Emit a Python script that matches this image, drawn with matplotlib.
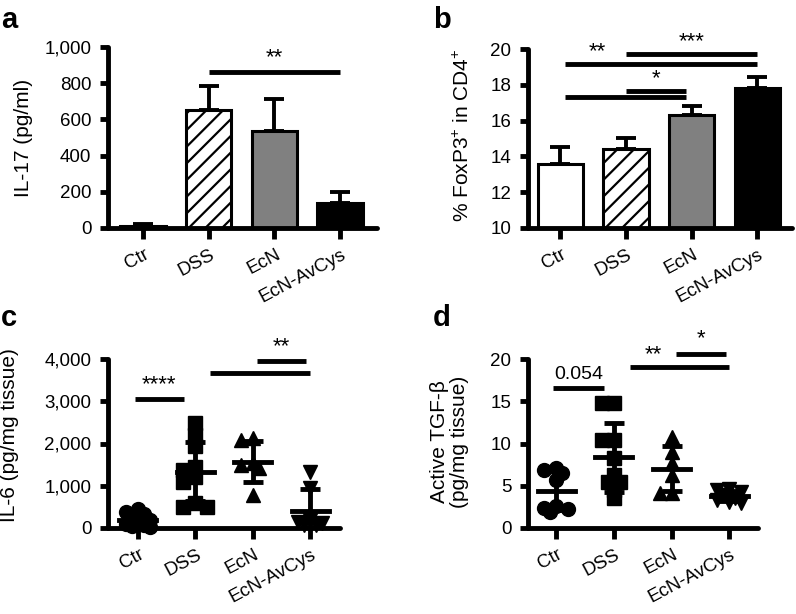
import numpy as np
import matplotlib
matplotlib.use('Agg')
import matplotlib.pyplot as plt
import matplotlib.transforms as mt
from matplotlib.ticker import FuncFormatter

plt.rcParams['font.family'] = ['Liberation Sans', 'DejaVu Sans']
plt.rcParams['mathtext.fontset'] = 'custom'
plt.rcParams['mathtext.rm'] = 'Liberation Sans'
plt.rcParams['mathtext.it'] = 'Liberation Sans:italic'
plt.rcParams['hatch.linewidth'] = 1.6

#%% data

groups = ['Ctr', 'DSS', 'EcN', 'EcN-AvCys']

# a: IL-17 (bar, mean and upper error)
il17_mean = [12, 650, 535, 140]
il17_upper = [20, 785, 715, 200]

# b: % FoxP3+ in CD4+
foxp3_mean = [13.55, 14.4, 16.3, 17.8]
foxp3_upper = [14.5, 15.05, 16.8, 18.45]

# c: IL-6 individual values
il6_ctr = [450, 380, 320, 250, 200, 150, 100, 80, 50, 30]
il6_dss = [2490, 2200, 1950, 1450, 1370, 1200, 1100, 585, 505, 505]
il6_ecn = [2090, 2120, 1490, 1530, 1410, 790]
il6_avcys = [1330, 940, 200, 150, 120, 80, 60]

# d: active TGF-beta individual values
tgf_ctr = [7.1, 6.9, 6.5, 5.7, 2.6, 2.4, 2.2, 1.9]
tgf_dss = [14.8, 14.8, 10.4, 10.4, 8.25, 6.3, 5.5, 5.4, 4.5, 3.5]
tgf_ecn = [10.8, 9.0, 7.65, 6.3, 4.1, 4.15]
tgf_avcys = [4.6, 4.5, 4.3, 3.9, 3.6, 3.3, 3.1, 3.0]

# significance: (from group, to group, height, label)
sig_a = [(1, 3, 862, '**')]
sig_b = [(0, 3, 19.16, ''), (1, 3, 19.7, '***'), (0, 2, 17.3, ''), (1, 2, 17.67, '*')]
sig_c = [(0, 1, 3060, '****'), (1, 3, 3680, ''), (2, 3, 3960, '**')]
sig_d = [(0, 1, 16.55, '0.054'), (1, 3, 19.1, ''), (2, 3, 20.6, '*')]

#%% figure

W, H = 796, 614
fig = plt.figure(figsize=(W / 100, H / 100), dpi=100)

def px_axes(l, r, t, b):
    return fig.add_axes([l / W, 1 - b / H, (r - l) / W, (b - t) / H])

LW = 3.5
TICK_FS = 13.5
LAB_FS = 15

def style(ax, ylim, yticks, xlim):
    ax.set_xlim(*xlim)
    ax.set_ylim(*ylim)
    ax.set_yticks(yticks)
    ax.set_xticks(range(len(groups)))
    ax.spines['top'].set_visible(False)
    ax.spines['right'].set_visible(False)
    for s in ['left', 'bottom']:
        ax.spines[s].set_linewidth(LW)
        ax.spines[s].set_capstyle('round')
    ax.tick_params(axis='y', length=6, width=LW, labelsize=TICK_FS, pad=6)
    ax.tick_params(axis='x', length=8, width=LW, labelsize=13.5, pad=5)
    ax.set_xticklabels(groups, rotation=28, ha='right', rotation_mode='anchor')
    # labels end just right of the tick
    off = mt.ScaledTranslation(1 / 100, 0, fig.dpi_scale_trans)
    for lab in ax.get_xticklabels():
        lab.set_transform(lab.get_transform() + off)

def sig(ax, comps, inset, dy, fs=16):
    for k, (i, j, y, txt) in enumerate(comps):
        x0, x1 = i + inset[k][0], j + inset[k][1]
        ax.plot([x0, x1], [y, y], color='k', lw=LW, solid_capstyle='butt', clip_on=False)
        if txt:
            ax.text((x0 + x1) / 2, y + dy, txt, ha='center', va='bottom',
                    fontsize=14 if txt[0].isdigit() else fs, clip_on=False)

comma = FuncFormatter(lambda v, p: '{:,.0f}'.format(v))

# ---- a
ax = px_axes(108, 377, 47, 228)
x = np.arange(4)
face = ['white', 'white', '#808080', 'black']
hatch = ['', '//', '', '']
ax.errorbar(x, il17_mean, yerr=[np.zeros(4), np.array(il17_upper) - np.array(il17_mean)],
            fmt='none', ecolor='k', elinewidth=2.8, capsize=7.5, capthick=2.8, zorder=1)
ax.bar(x, il17_mean, width=0.69, color=face, edgecolor='k', linewidth=2.2,
       hatch=hatch, zorder=2)
style(ax, (0, 1000), [0, 200, 400, 600, 800, 1000], (-0.53, 3.56))
ax.yaxis.set_major_formatter(comma)
ax.set_ylabel('IL-17 (pg/ml)', fontsize=LAB_FS)
ax.yaxis.set_label_coords(-0.28, 0.5)
sig(ax, sig_a, inset=[(0, 0)], dy=20)

# ---- b
ax = px_axes(528, 792, 49, 228)
ax.errorbar(x, foxp3_mean, yerr=[np.zeros(4), np.array(foxp3_upper) - np.array(foxp3_mean)],
            fmt='none', ecolor='k', elinewidth=2.8, capsize=7.5, capthick=2.8, zorder=1)
ax.bar(x, foxp3_mean, width=0.69, color=face, edgecolor='k', linewidth=2.2,
       hatch=hatch, zorder=2)
style(ax, (10, 20), [10, 12, 14, 16, 18, 20], (-0.49, 3.53))
ax.set_ylabel('% FoxP3$^{+}$ in CD4$^{+}$', fontsize=LAB_FS)
ax.yaxis.set_label_coords(-0.208, 0.52)
sig(ax, sig_b, inset=[(0.08, 0), (0, 0), (0.08, -0.08), (0, -0.08)], dy=0.1)
ax.text(0.56, 19.25, '**', ha='center', va='bottom', fontsize=16)

# ---- scatter panels
def swarm(vals, pos, ax_h_px, yrange, diam_px=13, step_px=6, unit_px=57.5):
    vals = np.asarray(vals, float)
    ypx = vals / yrange * ax_h_px
    order = np.argsort(-vals)
    placed = []
    xs = np.zeros(len(vals))
    cands = [0, -1, 1, -2, 2]
    for idx in order:
        best, best_d = 0, -1
        for c in cands:
            xp = c * step_px
            dmin = min([np.hypot(xp - px, ypx[idx] - py) for px, py in placed] or [1e9])
            if dmin >= 0.6 * diam_px:
                best = xp
                break
            if dmin > best_d:
                best, best_d = xp, dmin
        placed.append((best, ypx[idx]))
        xs[idx] = pos + best / unit_px
    return xs

def scatter_panel(ax, data, markers, yr, ax_h):
    for i, (vals, m) in enumerate(zip(data, markers)):
        xs = swarm(vals, i, ax_h, yr)
        ax.plot(xs, vals, m, color='k', ms=10, mec='k', clip_on=False, zorder=3)
        mu = np.mean(vals)
        sd = np.std(vals, ddof=1)
        ax.plot([i - 0.32, i + 0.32], [mu, mu], color='k', lw=LW, zorder=4)
        ax.errorbar([i], [mu], yerr=[[sd], [sd]], fmt='none', ecolor='k',
                    elinewidth=LW, capsize=7, capthick=LW, zorder=4)

markers = ['o', 's', '^', 'v']

# ---- c
ax = px_axes(108, 340, 359, 528)
scatter_panel(ax, [il6_ctr, il6_dss, il6_ecn, il6_avcys], markers, 4000, 169)
style(ax, (0, 4000), [0, 1000, 2000, 3000, 4000], (-0.52, 3.52))
ax.yaxis.set_major_formatter(comma)
ax.set_ylabel('IL-6 (pg/mg tissue)', fontsize=LAB_FS)
ax.yaxis.set_label_coords(-0.385, 0.55)
sig(ax, sig_c, inset=[(-0.05, -0.2), (0.26, 0), (0.08, -0.07)], dy=80)

# ---- d
ax = px_axes(528, 758, 359, 528)
scatter_panel(ax, [tgf_ctr, tgf_dss, tgf_ecn, tgf_avcys], markers, 20, 169)
style(ax, (0, 20), [0, 5, 10, 15, 20], (-0.49, 3.5))
ax.set_ylabel('Active TGF-β\n(pg/mg tissue)', fontsize=LAB_FS, linespacing=1.05)
ax.yaxis.set_label_coords(-0.257, 0.51)
sig(ax, sig_d, inset=[(-0.05, -0.18), (0.28, 0), (0.08, -0.05)], dy=0.6)
ax.text(1.68, 19.3, '**', ha='center', va='bottom', fontsize=16, clip_on=False)

# panel letters
for txt, xx, yy in [('a', 1, 6), ('b', 433, 6), ('c', 1, 304), ('d', 433, 304)]:
    fig.text(xx / W, 1 - yy / H, txt, fontsize=21, fontweight='bold', va='top', ha='left')

fig.savefig('out.png', dpi=100)
